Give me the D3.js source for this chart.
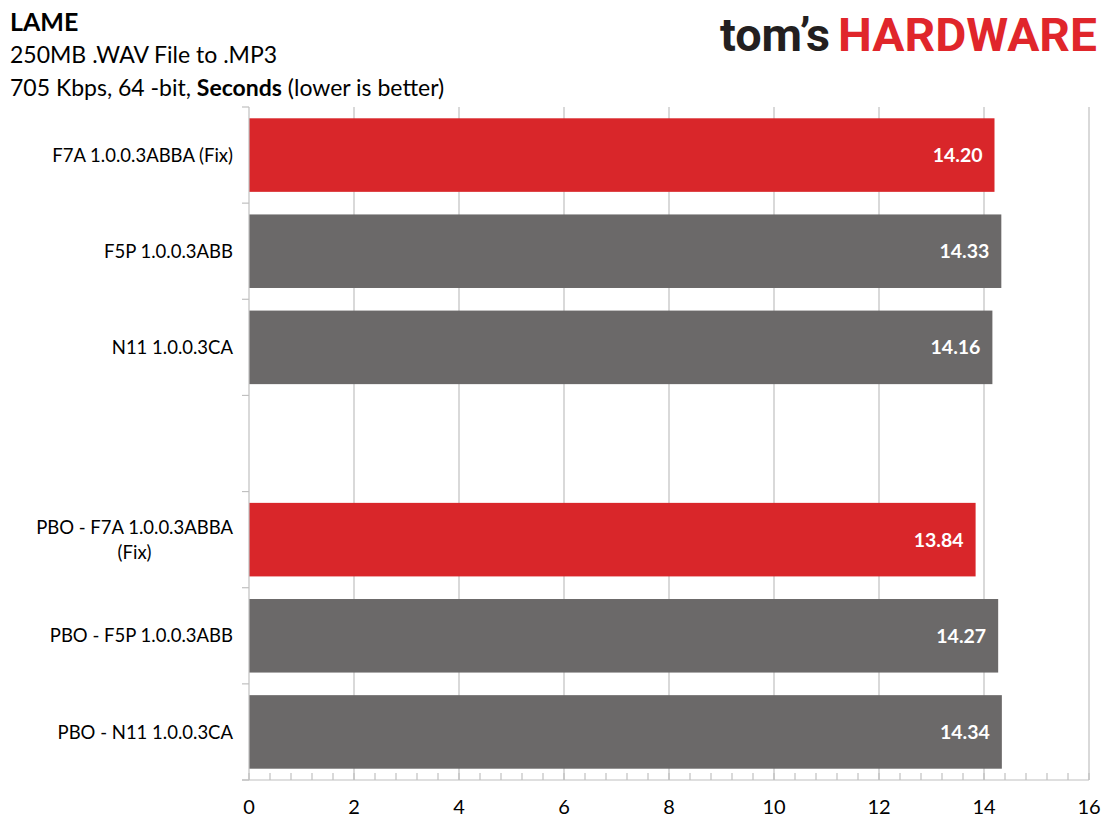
<!DOCTYPE html>
<html>
<head>
<meta charset="utf-8">
<script src="https://cdn.jsdelivr.net/npm/d3@7"></script>
<style>
  html, body { margin: 0; padding: 0; background: #fff; }
  svg { display: block; font-family: Lato, 'Open Sans', sans-serif; }
</style>
</head>
<body>
<div id="chart"></div>
<script>
// categories (blank entry = empty gap slot between the two groups)
const categories = [
  'F7A 1.0.0.3ABBA (Fix)',
  'F5P 1.0.0.3ABB',
  'N11 1.0.0.3CA',
  '',
  'PBO - F7A 1.0.0.3ABBA (Fix)',
  'PBO - F5P 1.0.0.3ABB',
  'PBO - N11 1.0.0.3CA',
];
const seconds = [14.20, 14.33, 14.16, null, 13.84, 14.27, 14.34];
const highlighted = [true, false, false, false, true, false, false];
const xTicks = [0, 2, 4, 6, 8, 10, 12, 14, 16];

const W = 1112;
const H = 833;
const RED = '#d9262a';
const GRAY = '#6b6969';
const GRID = '#c0c0c0';

const plot = { left: 249, right: 1089, top: 107, bottom: 780 };

const svg = d3.select('#chart')
  .append('svg')
  .attr('width', W)
  .attr('height', H);

// titles
svg.append('text')
  .attr('x', 10).attr('y', 31)
  .attr('font-size', 25).attr('font-weight', 'bold').attr('fill', '#000')
  .text('LAME');
svg.append('text')
  .attr('x', 10).attr('y', 63)
  .attr('font-size', 23).attr('fill', '#000')
  .text('250MB .WAV File to .MP3');
const sub = svg.append('text')
  .attr('x', 10).attr('y', 96)
  .attr('font-size', 23).attr('fill', '#000');
sub.append('tspan').text('705 Kbps, 64 -bit, ');
sub.append('tspan').attr('font-weight', 'bold').text('Seconds');
sub.append('tspan').text(' (lower is better)');

// logo
const logo = svg.append('g').attr('font-family', 'Roboto, sans-serif').attr('font-weight', 'bold');
logo.append('text')
  .attr('x', 720).attr('y', 51)
  .attr('font-size', 46).attr('fill', '#231f20')
  .attr('textLength', 110).attr('lengthAdjust', 'spacingAndGlyphs')
  .text('tom\u2019s');
logo.append('text')
  .attr('x', 838).attr('y', 51)
  .attr('font-size', 46).attr('fill', '#e0262b')
  .attr('textLength', 259).attr('lengthAdjust', 'spacingAndGlyphs')
  .text('HARDWARE');

// scales
const x = d3.scaleLinear().domain([0, 16]).range([plot.left, plot.right]);
const y = d3.scaleBand()
  .domain(d3.range(categories.length))
  .range([plot.top, plot.bottom])
  .paddingInner(0.235)
  .paddingOuter(0.1175);

// vertical gridlines
svg.append('g')
  .selectAll('line')
  .data(xTicks.slice(1))
  .join('line')
  .attr('x1', (d) => x(d)).attr('x2', (d) => x(d))
  .attr('y1', plot.top).attr('y2', plot.bottom)
  .attr('stroke', GRID).attr('stroke-width', 1.2);

// bars
const rows = categories.map((c, i) => ({ i, c, v: seconds[i], hi: highlighted[i] }))
  .filter((d) => d.v !== null);

svg.append('g')
  .selectAll('rect')
  .data(rows)
  .join('rect')
  .attr('x', x(0))
  .attr('y', (d) => y(d.i))
  .attr('width', (d) => x(d.v) - x(0))
  .attr('height', y.bandwidth())
  .attr('fill', (d) => (d.hi ? RED : GRAY));

// value labels
svg.append('g')
  .selectAll('text')
  .data(rows)
  .join('text')
  .attr('x', (d) => x(d.v) - 12)
  .attr('y', (d) => y(d.i) + y.bandwidth() / 2)
  .attr('dy', '0.36em')
  .attr('text-anchor', 'end')
  .attr('font-size', 19.5).attr('font-weight', 'bold').attr('fill', '#fff')
  .text((d) => d.v.toFixed(2));

// left axis line + boundary ticks
const step = y.step();
svg.append('line')
  .attr('x1', plot.left).attr('x2', plot.left)
  .attr('y1', plot.top).attr('y2', plot.bottom)
  .attr('stroke', GRID).attr('stroke-width', 1.2);
svg.append('g')
  .selectAll('line')
  .data(d3.range(categories.length + 1))
  .join('line')
  .attr('x1', plot.left - 7).attr('x2', plot.left)
  .attr('y1', (d) => plot.top + d * step).attr('y2', (d) => plot.top + d * step)
  .attr('stroke', GRID).attr('stroke-width', 1.2);

// bottom axis line, minor ticks
svg.append('line')
  .attr('x1', plot.left - 7).attr('x2', plot.right)
  .attr('y1', plot.bottom).attr('y2', plot.bottom)
  .attr('stroke', GRID).attr('stroke-width', 1.2);
const minor = d3.range(0, 16.001, 0.4);
svg.append('g')
  .selectAll('line')
  .data(minor)
  .join('line')
  .attr('x1', (d) => x(d)).attr('x2', (d) => x(d))
  .attr('y1', plot.bottom - 7).attr('y2', plot.bottom)
  .attr('stroke', GRID).attr('stroke-width', 1.2);

// x tick labels
svg.append('g')
  .selectAll('text')
  .data(xTicks)
  .join('text')
  .attr('x', (d) => x(d))
  .attr('y', 814)
  .attr('text-anchor', 'middle')
  .attr('font-size', 20).attr('fill', '#000')
  .text((d) => d);

// category labels (wrapped second line centred under the first)
const catG = svg.append('g');
const catSize = 18.5;
rows.forEach((d) => {
  const cy = y(d.i) + y.bandwidth() / 2;
  const parts = d.c.endsWith(' (Fix)') && d.c.startsWith('PBO')
    ? [d.c.replace(' (Fix)', ''), '(Fix)']
    : [d.c];
  if (parts.length === 1) {
    catG.append('text')
      .attr('x', 233).attr('y', cy).attr('dy', '0.36em')
      .attr('text-anchor', 'end')
      .attr('font-size', catSize).attr('fill', '#000')
      .text(parts[0]);
  } else {
    const first = catG.append('text')
      .attr('x', 233).attr('y', cy - 12.5).attr('dy', '0.36em')
      .attr('text-anchor', 'end')
      .attr('font-size', catSize).attr('fill', '#000')
      .text(parts[0]);
    const w = first.node().getComputedTextLength();
    catG.append('text')
      .attr('x', 233 - w / 2).attr('y', cy + 12.5).attr('dy', '0.36em')
      .attr('text-anchor', 'middle')
      .attr('font-size', catSize).attr('fill', '#000')
      .text(parts[1]);
  }
});
</script>
</body>
</html>
